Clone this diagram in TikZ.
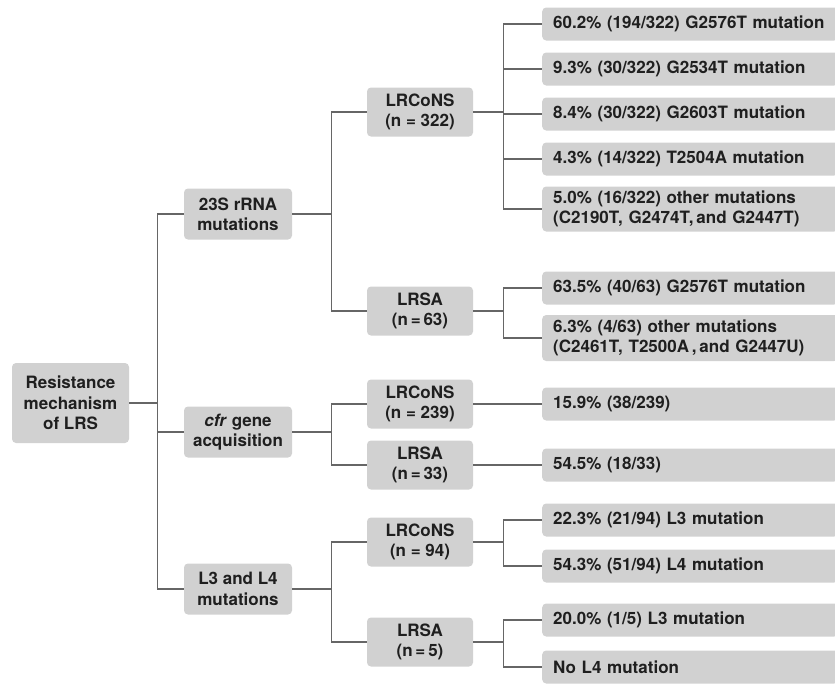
\documentclass[tikz,border=0pt]{standalone}
\usepackage{fontspec}
\setmainfont{TeX Gyre Heros}
\definecolor{boxgray}{gray}{0.82}
\definecolor{linegray}{gray}{0.40}
\definecolor{textgray}{gray}{0.12}

\begin{document}
\begin{tikzpicture}[x=1pt, y=-1pt,
    box/.style={fill=boxgray, rounded corners=4pt, text=textgray, inner sep=0pt,
        font=\fontsize{17}{20.3}\selectfont\bfseries, align=center},
    rootbox/.style={box, minimum width=117pt, minimum height=80pt},
    groupbox/.style={box, minimum width=108pt, minimum height=51pt},
    samplebox/.style={box, minimum width=106pt, minimum height=49pt},
    resultbox/.style={box, anchor=west, minimum width=296pt, minimum height=33pt,
        inner xsep=11pt, text width=274pt, align=left},
    link/.style={draw=linegray, line width=1.3pt}]
    \useasboundingbox (0,0) rectangle (835,686);
        %%%%%%%%%%%%%%%%%%%%%%%%%%%%%%%%%%%
        %%%Root and groups
        %%%%%%%%%%%%%%%%%%%%%%%%%%%%%%%%%%%
    \node[rootbox] (root) at (70.5,403) {Resistance\\mechanism\\of LRS};
    \node[groupbox] (rrna) at (238,214) {23S rRNA\\mutations};
    \node[groupbox] (cfr) at (238,432) {\textit{cfr} gene\\acquisition};
    \node[groupbox] (lmut) at (238,589) {L3 and L4\\mutations};
        %%%%%%%%%%%%%%%%%%%%%%%%%%%%%%%%%%%
        %%%Samples
        %%%%%%%%%%%%%%%%%%%%%%%%%%%%%%%%%%%
    \node[samplebox] (consA) at (420,112) {LRCoNS\\(n = 322)};
    \node[samplebox] (saA) at (420,311) {LRSA\\(n\,=\,63)};
    \node[samplebox] (consB) at (420,404) {LRCoNS\\(n = 239)};
    \node[samplebox] (saB) at (420,465) {LRSA\\(n\,=\,33)};
    \node[samplebox] (consC) at (420,542) {LRCoNS\\(n = 94)};
    \node[samplebox] (saC) at (420,642) {LRSA\\(n\,=\,5)};
        %%%%%%%%%%%%%%%%%%%%%%%%%%%%%%%%%%%
        %%%Results
        %%%%%%%%%%%%%%%%%%%%%%%%%%%%%%%%%%%
    \node[resultbox] (resA1) at (542,24) {60.2\% (194/322) G2576T mutation};
    \node[resultbox] (resA2) at (542,69) {9.3\% (30/322) G2534T mutation};
    \node[resultbox] (resA3) at (542,114) {8.4\% (30/322) G2603T mutation};
    \node[resultbox] (resA4) at (542,159) {4.3\% (14/322) T2504A mutation};
    \node[resultbox, minimum height=45pt] (resA5) at (542,209)
        {5.0\% (16/322) other mutations\\(C2190T, G2474T,\,and G2447T)};
    \node[resultbox] (resB1) at (542,288) {63.5\% (40/63) G2576T mutation};
    \node[resultbox, minimum height=46pt] (resB2) at (542,338)
        {6.3\% (4/63) other mutations\\(C2461T, T2500A\,,\,and G2447U)};
    \node[resultbox] (resC1) at (542,404) {15.9\% (38/239)};
    \node[resultbox] (resD1) at (542,465) {54.5\% (18/33)};
    \node[resultbox] (resE1) at (542,520) {22.3\% (21/94) L3 mutation};
    \node[resultbox] (resE2) at (542,566) {54.3\% (51/94) L4 mutation};
    \node[resultbox] (resF1) at (542,620) {20.0\% (1/5) L3 mutation};
    \node[resultbox] (resF2) at (542,667) {No L4 mutation};
        %%%%%%%%%%%%%%%%%%%%%%%%%%%%%%%%%%%
        %%%Connectors
        %%%%%%%%%%%%%%%%%%%%%%%%%%%%%%%%%%%
        %draw root to groups
    \foreach \c in {rrna,cfr,lmut}
        \draw[link] (root.east) -- ++(28,0) |- (\c.west);
        %draw groups to samples
    \foreach \c in {consA,saA}
        \draw[link] (rrna.east) -- ++(39,0) |- (\c.west);
    \foreach \c in {consB,saB}
        \draw[link] (cfr.east) -- ++(39,0) |- (\c.west);
    \foreach \c in {consC,saC}
        \draw[link] (lmut.east) -- ++(39,0) |- (\c.west);
        %draw samples to results
    \foreach \c in {resA1,resA2,resA3,resA4,resA5}
        \draw[link] (consA.east) -- ++(30,0) |- (\c.west);
    \foreach \c in {resB1,resB2}
        \draw[link] (saA.east) -- ++(30,0) |- (\c.west);
    \draw[link] (consB.east) -- (resC1.west);
    \draw[link] (saB.east) -- (resD1.west);
    \foreach \c in {resE1,resE2}
        \draw[link] (consC.east) -- ++(30,0) |- (\c.west);
    \foreach \c in {resF1,resF2}
        \draw[link] (saC.east) -- ++(30,0) |- (\c.west);
\end{tikzpicture}
\end{document}
